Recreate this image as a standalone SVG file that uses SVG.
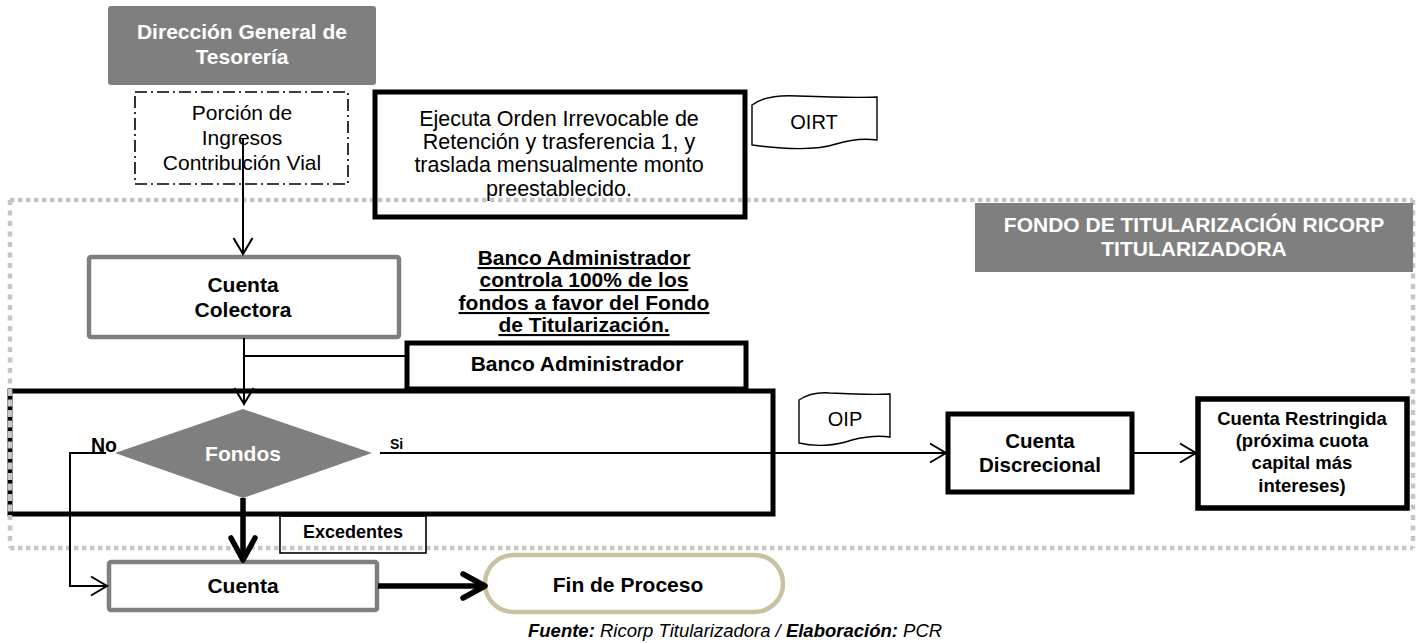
<svg xmlns="http://www.w3.org/2000/svg" width="1422" height="643" viewBox="0 0 1422 643">
<style>
text{font-family:"Liberation Sans",Arial,sans-serif;fill:#000}
.b{font-weight:bold}
.w{fill:#fff}
.m{text-anchor:middle}
.ln{fill:none;stroke:#000;stroke-width:2}
.thick{fill:none;stroke:#000;stroke-width:5.5}
.blk{fill:none;stroke:#000;stroke-width:5}
.gry{fill:#fff;stroke:#7f7f7f;stroke-width:4.5}
.dh{stroke:#c6c6c6;stroke-width:4.5;stroke-dasharray:4.5 3.5;fill:none}
.dv{stroke:#c6c6c6;stroke-width:4.5;stroke-dasharray:5 5.5;fill:none}
</style>
<defs>
<marker id="a" viewBox="0 0 20 22" refX="18" refY="11" markerWidth="20" markerHeight="22" markerUnits="userSpaceOnUse" orient="auto">
<path d="M2,1.5 L18,11 L2,20.5" fill="none" stroke="#000" stroke-width="2"/>
</marker>
<marker id="A" viewBox="0 0 30 30" refX="26" refY="15" markerWidth="30" markerHeight="30" markerUnits="userSpaceOnUse" orient="auto">
<path d="M4,3 L26,15 L4,27" fill="none" stroke="#000" stroke-width="5.5" stroke-linecap="round" stroke-linejoin="round"/>
</marker>
</defs>
<rect width="1422" height="643" fill="#fff"/>

<g id="banco-region">
<rect x="10" y="391" width="763" height="123" fill="none" stroke="#000" stroke-width="5"/>
</g>

<g id="fondo-region">
<line x1="10" y1="200" x2="1413" y2="200" class="dh"/>
<line x1="10" y1="548" x2="1413" y2="548" class="dh"/>
<line x1="10" y1="200" x2="10" y2="548" class="dv"/>
<line x1="1413" y1="200" x2="1413" y2="548" class="dv"/>
</g>

<g id="direccion">
<rect x="108" y="6" width="268" height="79" rx="3" fill="#7f7f7f"/>
<text class="b w m" x="242" y="39" font-size="21">Dirección General de</text>
<text class="b w m" x="242" y="64" font-size="21">Tesorería</text>
</g>

<g id="porcion">
<rect x="135" y="92" width="213" height="92" fill="none" stroke="#000" stroke-width="1.6" stroke-dasharray="12 4 2 4"/>
<text class="m" x="242" y="120" font-size="21">Porción de</text>
<text class="m" x="242" y="145" font-size="21">Ingresos</text>
<text class="m" x="242" y="170" font-size="21">Contribución Vial</text>
</g>

<g id="ejecuta">
<rect x="375" y="92" width="370" height="125" class="blk"/>
<text class="m" x="559" y="126" font-size="21.5">Ejecuta Orden Irrevocable de</text>
<text class="m" x="559" y="149" font-size="21.5">Retención y trasferencia 1, y</text>
<text class="m" x="559" y="172" font-size="21.5">traslada mensualmente monto</text>
<text class="m" x="559" y="196" font-size="21.5">preestablecido.</text>
</g>

<g id="oirt">
<path d="M752,105 C762,97 780,95 798,96 C825,97 855,98 877,97 L877,140 C862,138 849,140 836,144 C818,150 790,150 752,145 Z" fill="#fff" stroke="#000" stroke-width="1.4"/>
<text class="m" x="814" y="129" font-size="20">OIRT</text>
</g>

<g id="fondo-label">
<rect x="975" y="203" width="438" height="69" fill="#7f7f7f"/>
<text class="b w m" x="1194" y="232" font-size="21">FONDO DE TITULARIZACIÓN RICORP</text>
<text class="b w m" x="1194" y="256" font-size="21">TITULARIZADORA</text>
</g>

<g id="nota-banco">
<text class="b m" x="584" y="265" font-size="21" text-decoration="underline">Banco Administrador</text>
<text class="b m" x="584" y="287" font-size="21" text-decoration="underline">controla 100% de los</text>
<text class="b m" x="584" y="310" font-size="21" text-decoration="underline">fondos a favor del Fondo</text>
<text class="b m" x="584" y="332" font-size="21" text-decoration="underline">de Titularización.</text>
</g>

<g id="cuenta-colectora">
<rect x="89" y="257" width="310" height="80" rx="2" class="gry"/>
<text class="b m" x="243" y="292" font-size="21">Cuenta</text>
<text class="b m" x="243" y="317" font-size="21">Colectora</text>
</g>

<g id="banco-administrador">
<rect x="407" y="343" width="339" height="46" fill="#fff" stroke="#000" stroke-width="5"/>
<text class="b m" x="577" y="371" font-size="21">Banco Administrador</text>
</g>

<g id="fondos">
<polygon points="243,409 372,453 243,498 115,453" fill="#7f7f7f"/>
<text class="b w m" x="243" y="461" font-size="21">Fondos</text>
</g>

<g id="oip">
<path d="M799,400 C808,394 818,392 830,393 C850,394 870,395 890,394 L890,437 C876,435 864,437 852,440 C835,446 815,447 799,443 Z" fill="#fff" stroke="#000" stroke-width="1.4"/>
<text class="m" x="845" y="426" font-size="20">OIP</text>
</g>

<g id="cuenta-discrecional">
<rect x="948" y="414" width="184" height="78" fill="#fff" stroke="#000" stroke-width="5"/>
<text class="b m" x="1040" y="448" font-size="20.5">Cuenta</text>
<text class="b m" x="1040" y="472" font-size="20.5">Discrecional</text>
</g>

<g id="cuenta-restringida">
<rect x="1198" y="399" width="209" height="109" fill="#fff" stroke="#000" stroke-width="5.5"/>
<text class="b m" x="1302" y="425" font-size="18.5">Cuenta Restringida</text>
<text class="b m" x="1302" y="447" font-size="18.5">(próxima cuota</text>
<text class="b m" x="1302" y="469" font-size="18.5">capital más</text>
<text class="b m" x="1302" y="492" font-size="18.5">intereses)</text>
</g>

<g id="excedentes">
<rect x="280" y="516" width="146" height="37" fill="none" stroke="#000" stroke-width="1.6"/>
<text class="b m" x="353" y="538" font-size="18">Excedentes</text>
</g>

<g id="cuenta">
<rect x="109" y="562" width="268" height="48" rx="2" class="gry"/>
<text class="b m" x="243" y="593" font-size="21">Cuenta</text>
</g>

<g id="fin-proceso">
<rect x="485" y="555" width="298" height="57" rx="28.5" fill="#fff" stroke="#c9c19f" stroke-width="4.5"/>
<text class="b m" x="628" y="592" font-size="21">Fin de Proceso</text>
</g>

<g id="labels">
<text class="b" x="91" y="452" font-size="19.5">No</text>
<text class="b" x="390" y="449" font-size="14">Si</text>
</g>

<g id="connectors">
<line x1="243" y1="138" x2="243" y2="254" class="ln" marker-end="url(#a)"/>
<line x1="244" y1="338" x2="244" y2="404" class="ln" marker-end="url(#a)"/>
<line x1="244" y1="356" x2="406" y2="356" class="ln"/>
<polyline points="106,453 70,453 70,586 107,586" class="ln" marker-end="url(#a)"/>
<line x1="380" y1="453" x2="946" y2="453" class="ln" marker-end="url(#a)"/>
<line x1="1133" y1="453" x2="1196" y2="453" class="ln" marker-end="url(#a)"/>
<line x1="243" y1="498" x2="243" y2="560" class="thick" marker-end="url(#A)"/>
<line x1="378" y1="586" x2="485" y2="586" class="thick" marker-end="url(#A)"/>
</g>

<g id="region-overlay">
<line x1="10" y1="391" x2="10" y2="514" class="dv"/>
</g>

<g id="footer">
<text x="528" y="637" font-size="18.5" font-style="italic"><tspan font-weight="bold">Fuente:</tspan> Ricorp Titularizadora / <tspan font-weight="bold">Elaboración:</tspan> PCR</text>
</g>
</svg>
